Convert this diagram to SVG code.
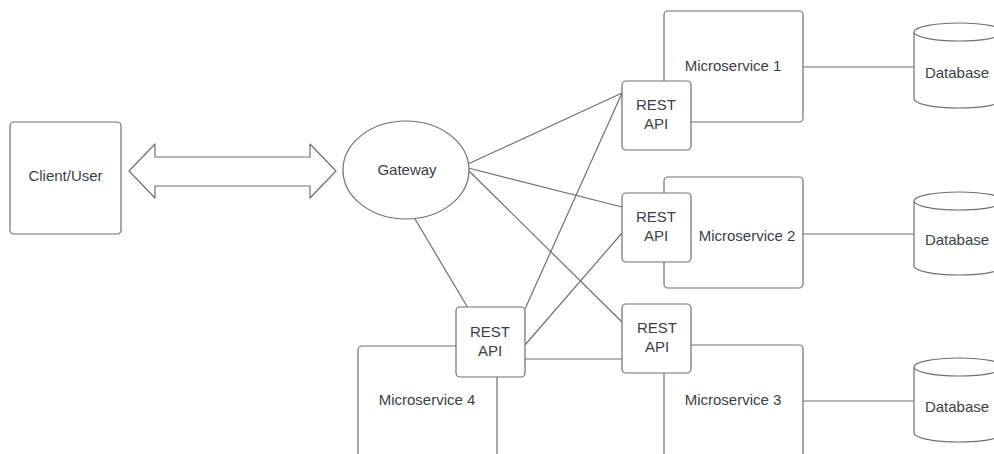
<svg xmlns="http://www.w3.org/2000/svg" width="994" height="454" viewBox="0 0 994 454">
<style>
.s{fill:#ffffff;stroke:#6f6f6f;stroke-width:1.2}
.c{fill:none;stroke:#6f6f6f;stroke-width:1.2}
.t{font-family:"Liberation Sans",Arial,sans-serif;font-size:15px;fill:#3a3f45;text-anchor:middle}
</style>
<rect width="994" height="454" fill="#ffffff"/>
<g id="connectors">
<line class="c" x1="468" y1="164" x2="622" y2="93"/>
<line class="c" x1="468" y1="168" x2="622" y2="207"/>
<line class="c" x1="468" y1="170" x2="623" y2="323"/>
<line class="c" x1="415" y1="219" x2="468" y2="308"/>
<line class="c" x1="525" y1="309" x2="622" y2="93"/>
<line class="c" x1="525" y1="345" x2="622" y2="233"/>
<line class="c" x1="525" y1="359" x2="622" y2="359"/>
<line class="c" x1="803" y1="67" x2="914" y2="67"/>
<line class="c" x1="803" y1="234" x2="914" y2="234"/>
<line class="c" x1="803" y1="401" x2="914" y2="401"/>
<path class="s" stroke-linejoin="round" d="M129,171 L155,144 L155,157 L310,157 L310,144 L336,171 L310,198 L310,186 L155,186 L155,198 Z"/>
</g>
<g id="client">
<rect class="s" x="10" y="122" width="111" height="112" rx="4"/>
<text class="t" x="65.5" y="181">Client/User</text>
</g>
<g id="gateway">
<ellipse class="s" cx="406" cy="170" rx="63" ry="49"/>
<text class="t" x="407" y="175">Gateway</text>
</g>
<g id="ms1">
<rect class="s" x="664" y="11" width="139" height="111" rx="4"/>
<text class="t" x="733" y="71">Microservice 1</text>
</g>
<g id="ms2">
<rect class="s" x="664" y="177" width="139" height="111" rx="4"/>
<text class="t" x="747" y="241">Microservice 2</text>
</g>
<g id="ms3">
<rect class="s" x="664" y="345" width="139" height="120" rx="4"/>
<text class="t" x="733" y="405">Microservice 3</text>
</g>
<g id="ms4">
<rect class="s" x="358" y="346" width="139" height="120" rx="4"/>
<text class="t" x="427" y="405">Microservice 4</text>
</g>
<g id="api1">
<rect class="s" x="622" y="81" width="69" height="69" rx="4"/>
<text class="t" x="656" y="110">REST</text>
<text class="t" x="656" y="129">API</text>
</g>
<g id="api2">
<rect class="s" x="622" y="193" width="69" height="69" rx="4"/>
<text class="t" x="656" y="222">REST</text>
<text class="t" x="656" y="241">API</text>
</g>
<g id="api3">
<rect class="s" x="622" y="304" width="69" height="69" rx="4"/>
<text class="t" x="657" y="333">REST</text>
<text class="t" x="657" y="352">API</text>
</g>
<g id="api4">
<rect class="s" x="456" y="307" width="69" height="70" rx="4"/>
<text class="t" x="490" y="337">REST</text>
<text class="t" x="490" y="356">API</text>
</g>
<g id="db1">
<path class="s" d="M914,32 V99 A45,9 0 0 0 1004,99 V32 A45,9 0 0 0 914,32 A45,9 0 0 0 1004,32"/>
<text class="t" x="957" y="78">Database</text>
</g>
<g id="db2">
<path class="s" d="M914,201 V266 A45,9 0 0 0 1004,266 V201 A45,9 0 0 0 914,201 A45,9 0 0 0 1004,201"/>
<text class="t" x="957" y="245">Database</text>
</g>
<g id="db3">
<path class="s" d="M914,367 V433 A45,9 0 0 0 1004,433 V367 A45,9 0 0 0 914,367 A45,9 0 0 0 1004,367"/>
<text class="t" x="957" y="412">Database</text>
</g>
</svg>
